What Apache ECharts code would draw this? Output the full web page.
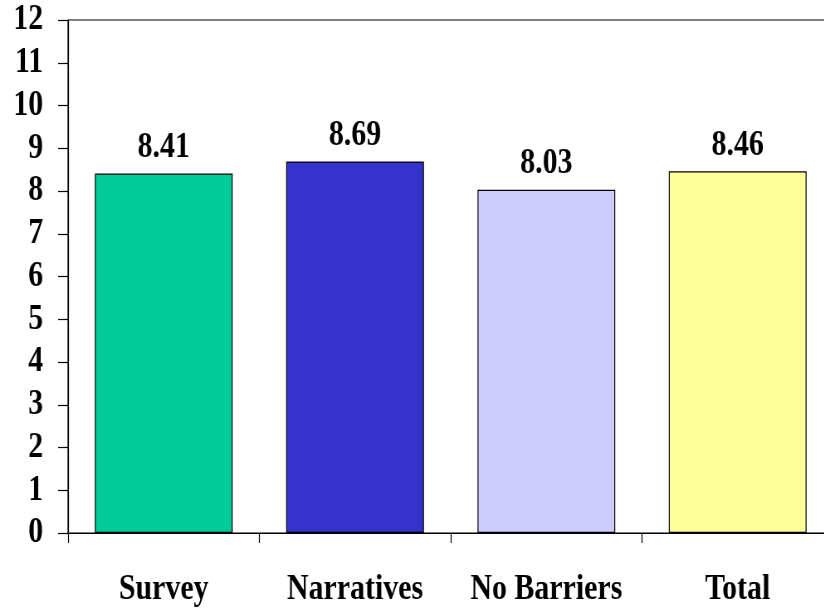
<!DOCTYPE html>
<html>
<head>
<meta charset="utf-8">
<script src="https://cdn.jsdelivr.net/npm/echarts@6/dist/echarts.min.js"></script>
<style>
  html, body { margin: 0; padding: 0; background: #fff; overflow: hidden; width: 824px; height: 608px; }
  /* The chart is laid out wide and narrowed horizontally to get the condensed serif look */
  #chart { width: 1010px; height: 608px; transform: scaleX(0.83); transform-origin: 0 0; }
</style>
</head>
<body>
<div id="chart"></div>
<script>
const categories = ['Survey', 'Narratives', 'No Barriers', 'Total'];
const scores = [8.41, 8.69, 8.03, 8.46];
const barColors = ['#00CC99', '#3333CC', '#CCCCFF', '#FFFF99'];

const font = "'Liberation Serif', 'Times New Roman', serif";

const chart = echarts.init(document.getElementById('chart'), null, { renderer: 'canvas' });
chart.setOption({
  animation: false,
  backgroundColor: '#fff',
  grid: {
    left: 82, right: 6, top: 20, bottom: 75,
    show: true, borderColor: '#000', borderWidth: 1.2, backgroundColor: 'transparent'
  },
  xAxis: {
    type: 'category',
    data: categories,
    axisLine: { lineStyle: { color: '#000', width: 1.2 } },
    axisTick: { show: true, interval: 0, length: 10, lineStyle: { color: '#000', width: 1.2 } },
    axisLabel: { interval: 0, color: '#000', fontFamily: font, fontWeight: 'bold', fontSize: 36, lineHeight: 36, margin: 39 }
  },
  yAxis: {
    type: 'value',
    min: 0, max: 12, interval: 1,
    axisLine: { show: true, lineStyle: { color: '#000', width: 1.2 } },
    axisTick: { show: true, length: 12, lineStyle: { color: '#000', width: 1.2 } },
    splitLine: { show: false },
    axisLabel: { color: '#000', fontFamily: font, fontWeight: 'bold', fontSize: 36, margin: 30, padding: [4, 0, 0, 0] }
  },
  series: [{
    type: 'bar',
    barWidth: '72%',
    data: scores.map((v, i) => ({ value: v, itemStyle: { color: barColors[i] } })),
    itemStyle: { borderColor: '#000', borderWidth: 1.2 },
    label: {
      show: true, position: 'top', distance: 8,
      color: '#000', fontFamily: font, fontWeight: 'bold', fontSize: 36, lineHeight: 36,
      formatter: p => p.value.toFixed(2)
    }
  }]
});
</script>
</body>
</html>
